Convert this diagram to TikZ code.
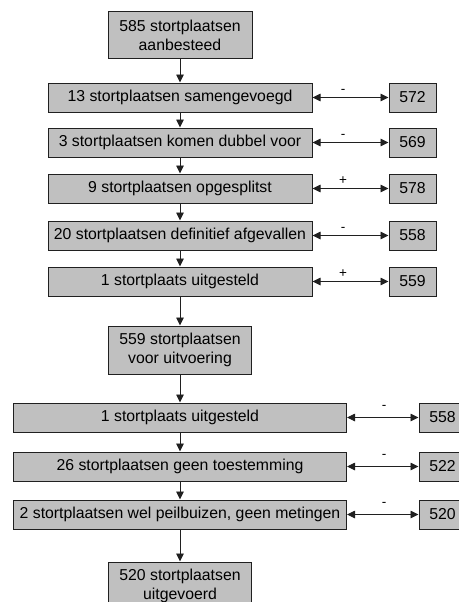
\documentclass[tikz,border=0pt]{standalone}
\usepackage{fontspec}
\setmainfont{Liberation Sans}
\usetikzlibrary{arrows.meta}
\definecolor{boxfill}{HTML}{C0C0C0}
\definecolor{lineclr}{HTML}{202020}
\begin{document}
\begin{tikzpicture}[x=1pt,y=-1pt,
  box/.style={draw=lineclr,line width=1pt,fill=boxfill,inner sep=0pt,align=center,
    font=\fontsize{15.8}{18.3}\selectfont},
  wide/.style={box,minimum width=264pt,minimum height=29pt},
  wider/.style={box,minimum width=333pt,minimum height=29pt},
  big/.style={box,minimum width=144pt,minimum height=47pt},
  num/.style={box,minimum width=47pt,minimum height=29pt},
  flow/.style={draw=lineclr,line width=0.9pt,-{Triangle[length=8pt,width=7.5pt]}},
  both/.style={draw=lineclr,line width=0.9pt,{Triangle[length=8pt,width=7.5pt]}-{Triangle[length=8pt,width=7.5pt]}},
  sign/.style={font=\fontsize{13.5}{14}\selectfont,inner sep=0pt,anchor=base}]
\useasboundingbox (0,0) rectangle (458,602);
\fill[white] (0,0) rectangle (458,602);
\node[big] (top) at (180,35.5) {585 stortplaatsen\\aanbesteed};
\node[wide] (b1) at (180,97.5) {13 stortplaatsen samengevoegd};
\node[wide] (b2) at (180,142.5) {3 stortplaatsen komen dubbel voor};
\node[wide] (b3) at (180,188.5) {9 stortplaatsen opgesplitst};
\node[wide] (b4) at (180,235.5) {20 stortplaatsen definitief afgevallen};
\node[wide] (b5) at (180,281.5) {1 stortplaats uitgesteld};
\node[num] (r1) at (412.5,97.5) {572};
\node[num] (r2) at (412.5,142.5) {569};
\node[num] (r3) at (412.5,188.5) {578};
\node[num] (r4) at (412.5,235.5) {558};
\node[num] (r5) at (412.5,281.5) {559};
\node[big,minimum width=143pt,minimum height=48pt] (mid) at (180,350) {559 stortplaatsen\\voor uitvoering};
\node[wider] (b6) at (180,417.5) {1 stortplaats uitgesteld};
\node[wider] (b7) at (180,466.5) {26 stortplaatsen geen toestemming};
\node[wider] (b8) at (180,514.5) {2 stortplaatsen wel peilbuizen, geen metingen};
\node[num] (r6) at (442.5,417.5) {558};
\node[num] (r7) at (442.5,466.5) {522};
\node[num] (r8) at (442.5,514.5) {520};
\node[big,minimum width=143pt,minimum height=48pt] (end) at (180,586) {520 stortplaatsen\\uitgevoerd};
% vertical flow
\draw[flow] (top.south) -- (b1.north);
\draw[flow] (b1) -- (b2);
\draw[flow] (b2) -- (b3);
\draw[flow] (b3) -- (b4);
\draw[flow] (b4) -- (b5);
\draw[flow] (b5.south) -- (mid.north);
\draw[flow] (mid.south) -- (b6.north);
\draw[flow] (b6) -- (b7);
\draw[flow] (b7) -- (b8);
\draw[flow] (b8.south) -- (end.north);
% side arrows
\foreach \i/\s in {1/-,2/-,3/+,4/-,5/+}{
  \draw[both] (b\i.east) -- (r\i.west);
  \node[sign] (s\i) at ([yshift=4pt]b\i.east -| 343,0) {\s};
}
\foreach \i in {6,7,8}{
  \draw[both] (b\i.east) -- (r\i.west);
  \node[sign] (s\i) at ([yshift=8pt]b\i.east -| 384,0) {-};
}
\end{tikzpicture}
\end{document}
